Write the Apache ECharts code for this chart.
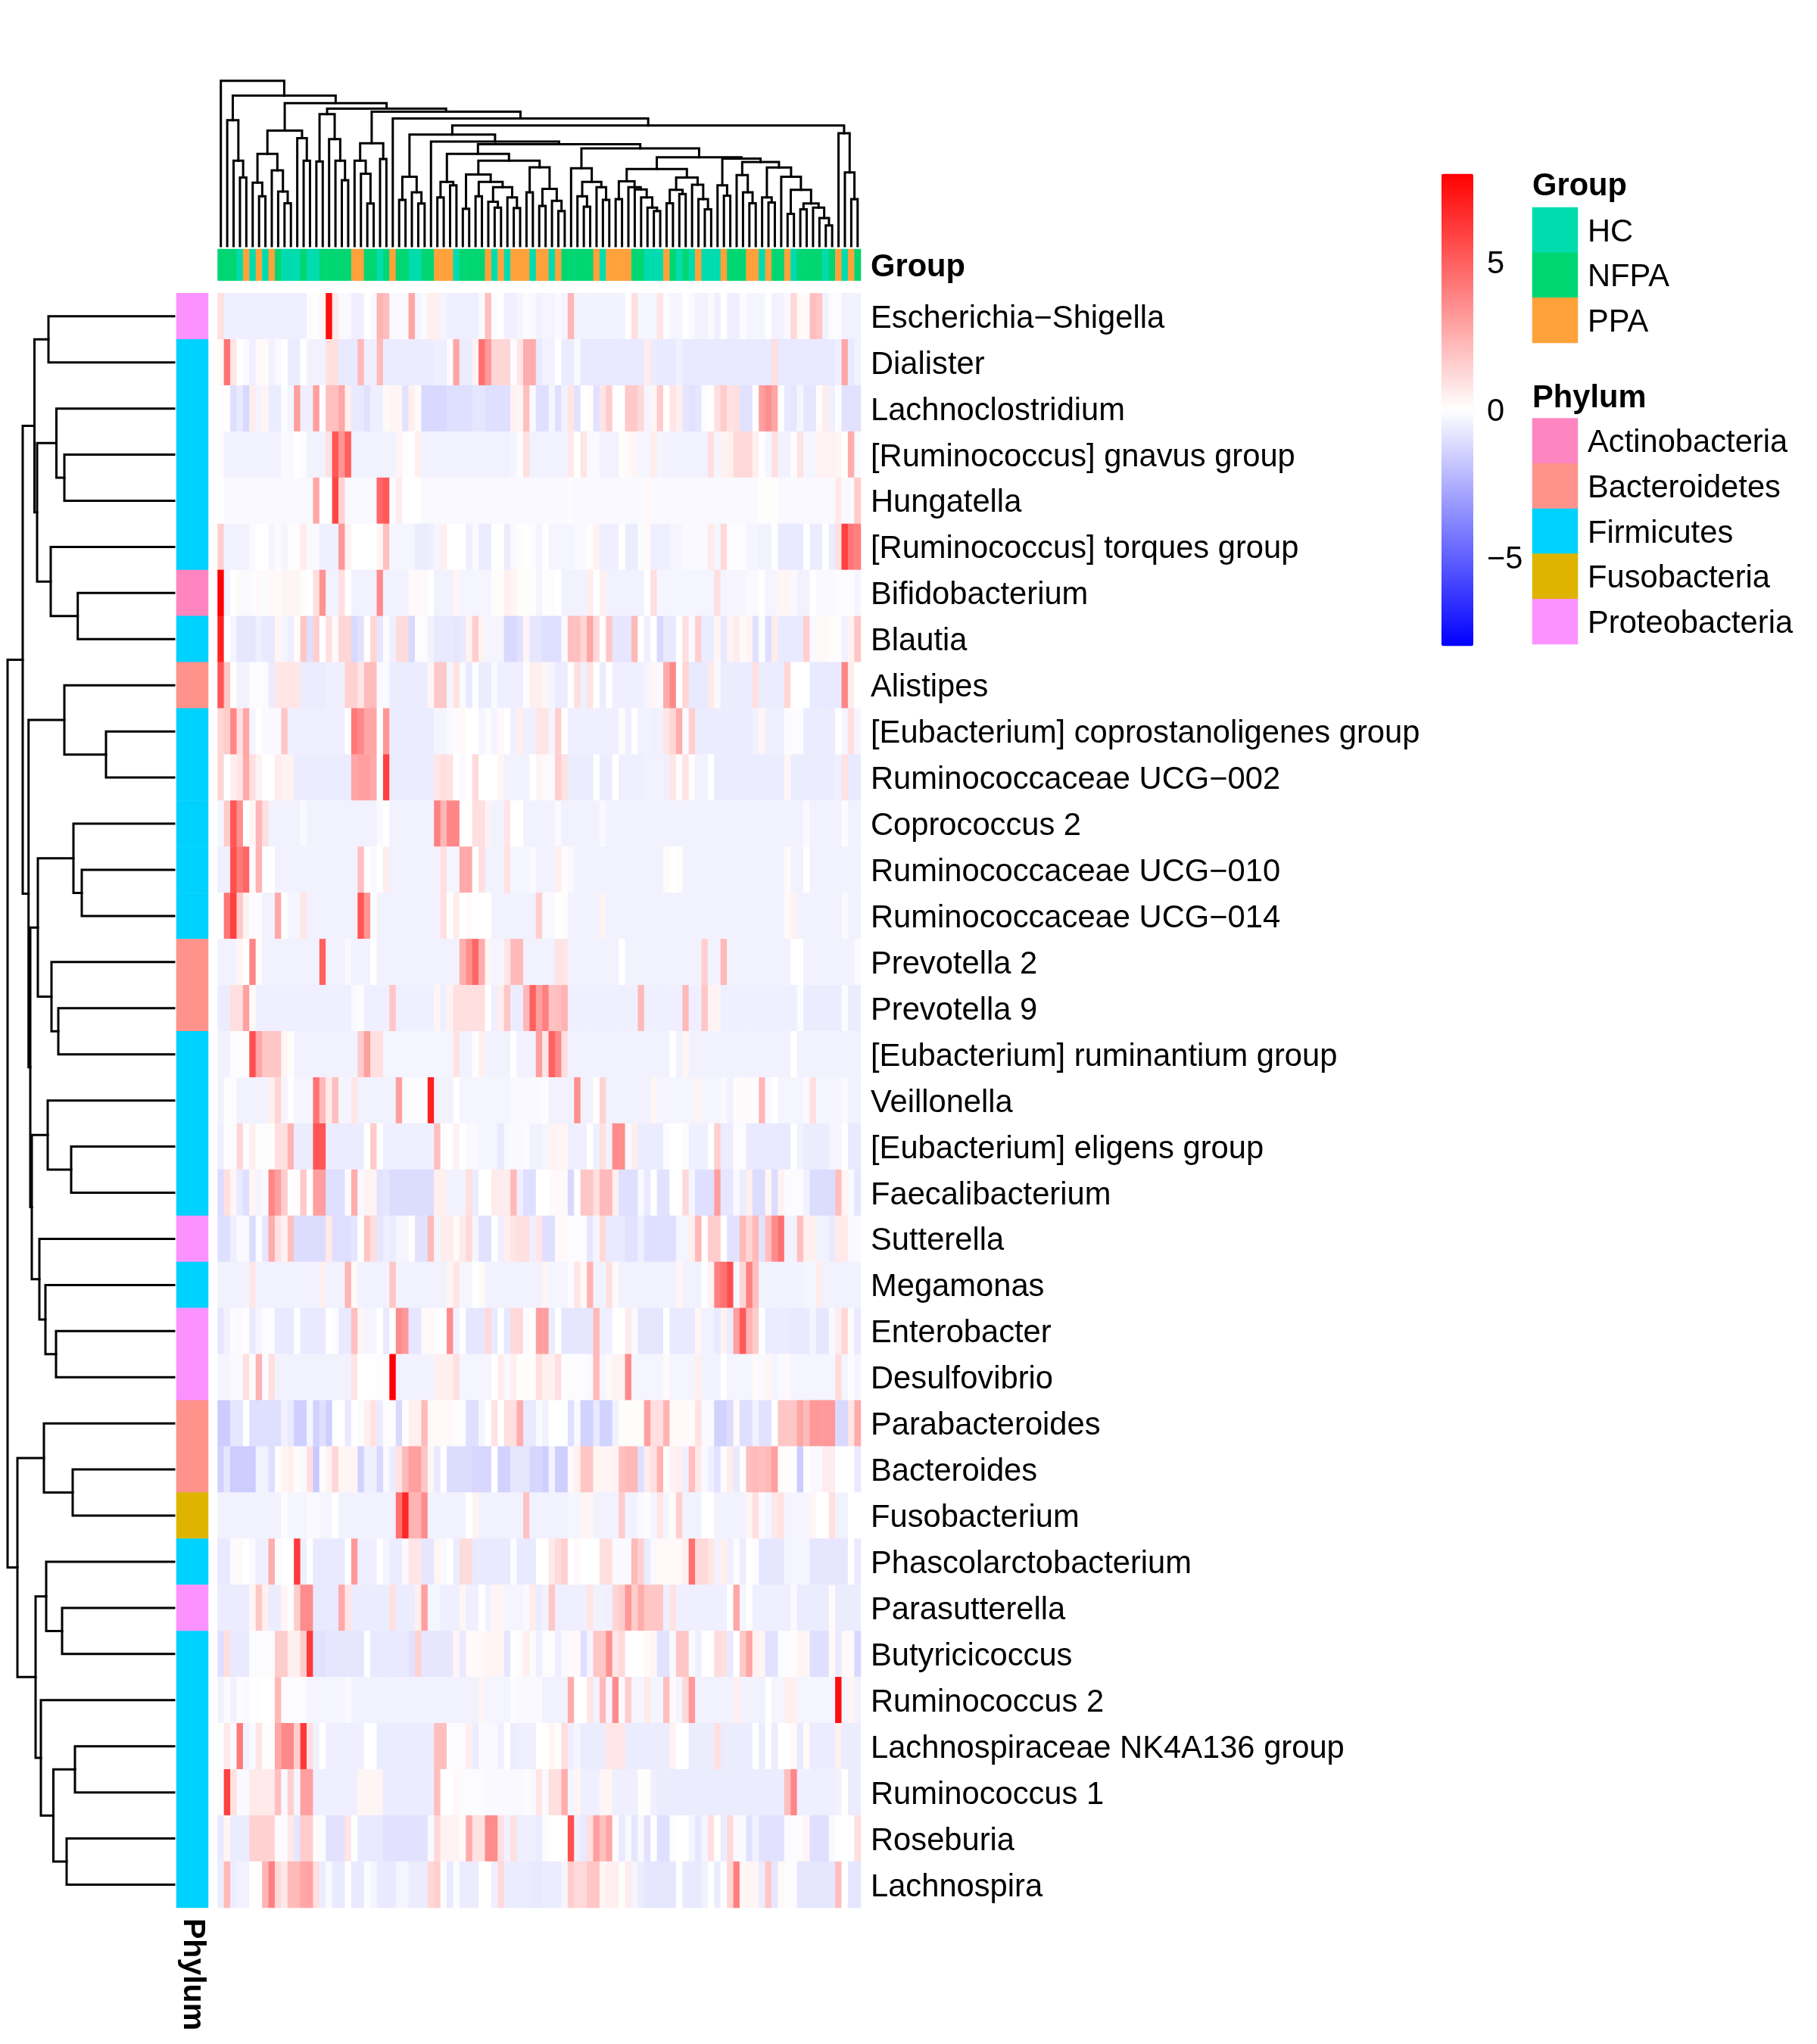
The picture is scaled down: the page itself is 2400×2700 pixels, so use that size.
<!DOCTYPE html>
<html><head><meta charset="utf-8">
<style>html,body{margin:0;padding:0;background:#fff}#c{width:2400px;height:2700px}</style>
<script src="https://cdn.jsdelivr.net/npm/echarts@6/dist/echarts.min.js"></script>
</head><body><div id="c"></div>
<script>
const genera = ["Escherichia−Shigella","Dialister","Lachnoclostridium","[Ruminococcus] gnavus group","Hungatella","[Ruminococcus] torques group","Bifidobacterium","Blautia","Alistipes","[Eubacterium] coprostanoligenes group","Ruminococcaceae UCG−002","Coprococcus 2","Ruminococcaceae UCG−010","Ruminococcaceae UCG−014","Prevotella 2","Prevotella 9","[Eubacterium] ruminantium group","Veillonella","[Eubacterium] eligens group","Faecalibacterium","Sutterella","Megamonas","Enterobacter","Desulfovibrio","Parabacteroides","Bacteroides","Fusobacterium","Phascolarctobacterium","Parasutterella","Butyricicoccus","Ruminococcus 2","Lachnospiraceae NK4A136 group","Ruminococcus 1","Roseburia","Lachnospira"];
const groupNames = ["HC","NFPA","PPA"];
const phylumNames = ["Actinobacteria","Bacteroidetes","Firmicutes","Fusobacteria","Proteobacteria"];
const groupPerSample = "N N N H P H P H P N  H H H N H H N N N N  N P P N N H N P N N  H H N N P P P H N N  N N P H P H P P P H  P P H P N N N N N P  H P P P P N N H H H  P N H N H P H H H P  N N N P P H P N N P  H N N N N H N P H P N".trim().split(/\s+/);
const phylumPerGenus = ["Proteobacteria","Firmicutes","Firmicutes","Firmicutes","Firmicutes","Firmicutes","Actinobacteria","Firmicutes","Bacteroidetes","Firmicutes","Firmicutes","Firmicutes","Firmicutes","Firmicutes","Bacteroidetes","Bacteroidetes","Firmicutes","Firmicutes","Firmicutes","Firmicutes","Proteobacteria","Firmicutes","Proteobacteria","Proteobacteria","Bacteroidetes","Bacteroidetes","Fusobacteria","Firmicutes","Proteobacteria","Firmicutes","Firmicutes","Firmicutes","Firmicutes","Firmicutes","Firmicutes"];
const colorTicks = [-5,0,5];

const r00=[1,-.5,-.5,-.5,-.5,-.5,-.5,-.5,-.5,-.5, -.5,-.5,-.5,-.5,-.1,.1,.3,7.6,.7,-.2, -.2,-.5,-.5,0,-.2,2.4,2,-.2,-.2,-.2, 2.8,-.3,-.2,.5,.5,-.3,-.5,-.5,-.5,-.5, -.5,-.2,2,-.1,0,-.5,-.5,-.3,-.1,-.2, -.4,-.3,-.3,-.2,-.3,2.3,-.4,-.4,-.4,-.4, -.4,-.4,-.4,-.4,0,1,-.3,-.3,-.3,.8, -.1,-.3,-.3,0,-.2,-.4,-.4,-.2,-.5,0, -.5,-.5,-.1,-.3,-.3,-.3,0,-.4,-.4,-.2, 1.2,.2,.2,2,1.8,-.4,-.1,-.1,-.4,-.4, -.4];
const r01=[.2,4.4,.8,0,-.2,-.5,.2,.2,-.4,-.2, 0,-.6,-.6,0,-.4,-.4,-.4,1,1,-.7, -.7,-.7,2.2,-.5,-.5,2.2,-.6,-.6,-.6,-.6, -.6,-.6,-.6,-.6,-.5,-.5,-.1,2.8,-.6,-.6, .4,4.5,3.2,1.3,1.3,1.3,-.1,.8,2.6,2.6, -.7,-.4,-.4,0,-.6,-.6,-.2,-.7,-.7,-.7, -.7,-.7,-.7,-.7,-.7,-.7,-.7,.6,-.6,-.7, -.7,-.7,-.4,-.7,-.7,-.7,-.7,-.7,-.7,-.7, -.7,-.7,-.7,-.7,-.7,-.7,-.7,1,-.7,-.7, -.7,-.7,-.7,-.7,-.7,-.7,-.7,-.5,2.8,-.7, -.4];
const r02=[.05,.05,-1,-.7,-1.2,.6,-.3,.3,-.6,-.6, -.1,-.3,3,-.5,-.5,3,0,2,2,2.8, .5,-.7,-.7,-.9,-.5,-.5,.2,.3,.3,-.9, .5,.2,-1.2,-1.2,-1.2,-1.2,-1,-1,-1,-1, -.8,-.8,-1,-1,-1,-1,.4,.3,2,-.2, -1,-1,-.3,-1,-.4,.8,-.9,0,.1,-.9, .8,1.6,0,0,1.7,1.7,1.2,-.3,.3,1.6, 0,.8,.5,-.8,-.9,-.8,-.1,0,1,1.6, .9,1,-.9,-.9,0,3,3.5,2.8,0,-.7, -.8,-.3,-.8,-.8,.1,.6,-.5,-.1,-.9,-.9, -.9];
const r03=[.1,-.4,-.4,-.4,-.4,-.4,-.4,-.4,-.4,-.4, -.2,-.2,0,-.1,-.4,-.4,-.4,.9,5.3,3.4, 5,-.4,-.4,-.4,-.4,-.4,-.4,-.4,.3,.1, 0,.5,-.4,-.4,-.4,-.4,-.4,-.4,-.4,-.4, -.4,-.4,-.4,-.4,-.4,-.4,-.3,-.1,1,-.4, -.4,-.4,-.4,-.4,-.4,.7,0,.8,-.2,-.2, -.4,-.4,-.4,.1,.2,.3,-.3,-.3,.6,-.3, -.4,-.4,-.4,-.4,-.4,-.4,-.4,1,-.3,.4, .5,1.2,1.2,1.2,.5,0,-.3,1,-.4,-.4, .1,.9,-.3,-.3,.4,.4,.4,.3,0,2.6, -.2];
const r04=[0,-.2,-.2,-.2,-.2,-.2,-.2,-.2,-.2,-.2, -.2,-.2,-.2,-.2,-.2,2.8,0,0,5.8,1.4, -.2,-.2,-.2,-.2,-.2,4.8,5.2,-.1,.6,0, 0,0,-.2,-.2,-.2,-.2,-.2,-.2,-.2,-.2, -.2,-.2,-.2,-.2,-.2,-.2,-.2,-.2,-.2,-.2, -.2,-.2,-.2,-.2,-.2,-.1,-.2,-.2,-.2,-.2, -.2,-.2,-.2,-.2,-.2,-.2,-.2,.2,-.2,-.2, -.2,-.2,-.2,-.2,-.2,-.2,-.2,-.2,-.2,-.2, -.2,-.2,-.2,-.2,-.2,.1,.1,.1,-.2,-.2, -.2,-.2,-.2,-.2,-.2,-.2,-.2,.7,-.2,-.2, 1.6];
const r05=[1.5,-.4,-.4,-.4,-.4,-.2,0,0,-.3,-.1, -.3,-.1,.1,.6,-.2,-.2,-.5,-.5,-.5,3.2, .4,0,0,0,0,.3,2,-.3,-.3,-.3, -.3,-.6,-.6,-.5,-.3,.5,0,0,0,-.5, -.2,-.6,-.6,0,0,-.6,-.2,.1,0,-.1, -.3,0,-.3,-.3,-.3,-.3,-.2,-.2,.1,.4, -.5,-.5,-.5,0,-.6,-.6,-.1,.2,-.5,-.5, -.5,-.3,-.3,-.2,-.2,-.2,-.2,.7,-.3,1.2, -.1,-.1,-.1,-.3,-.3,-.4,-.4,0,-.7,-.7, -.7,-.7,0,-.6,-.6,0,-.6,1,6,4.3, 4];
const r06=[8,-.4,0,.2,-.2,-.1,.2,-.1,.2,.2, .3,.3,.3,.1,0,1,3.4,-.4,-.4,1, 0,-.4,-.4,-.4,-.4,3.6,-.4,-.4,-.4,-.4, .2,.2,.2,0,-.4,-.4,-.4,.3,-.3,-.3, -.3,-.3,-.3,.1,.1,.5,.3,.1,.1,.1, -.3,.1,-.1,0,-.4,-.4,-.4,-.4,.6,0, .5,-.4,-.4,-.4,-.4,-.4,-.4,0,1,-.3, -.3,-.3,-.3,-.3,-.3,-.3,-.3,-.3,1,-.3, -.3,-.3,-.3,-.2,-.2,0,-.3,-.3,.3,.3, -.2,-.4,-.4,0,-.2,-.2,-.2,-.1,-.1,-.1, -.3];
const r07=[7,0,-.3,-.8,-.8,-.8,-.5,-.7,-.7,.3, -.3,-.5,.1,1.8,-1,1.5,0,1,.2,1.3, 1.3,-1.2,-.9,0,1.3,-.8,-.1,-.5,1.1,1.1, -1.2,-.1,-.1,-.4,-.7,-.7,-.7,-.8,-.7,.4, 1.6,.4,-.3,-.3,-.3,-1.2,-1.2,-.9,.3,-.8, -.8,-1,-1,-1,-.2,2,2,1.3,2.8,1.2, .1,1.8,-.8,-.8,-.8,2.2,0,-.5,0,-1.2, -.7,-.7,0,1,-.2,1.5,-.6,-.6,.3,-.7, .4,.6,.2,.3,-.9,-.1,-1,.6,-.7,-.7, -.7,-.7,1.5,-.2,.2,.2,.1,.1,-.4,.4, 1.8];
const r08=[5.3,1.8,0,-.4,-.4,-.1,-.1,-.1,-.6,.8, .8,.8,.8,-.6,-.6,-.6,-.6,-.5,-.5,-.5, 1.4,1.4,.8,2.1,2.1,-.2,-.2,-.6,-.6,-.6, -.6,-.6,-.6,.3,1.7,1.7,-.3,.9,-.2,-.7, -.1,-.6,-.6,-.2,-.5,-.5,-.5,-.5,-.1,.5, .5,.3,-.3,-.6,-.6,0,1,-.5,.9,0, -.6,0,-.5,-.5,-.5,-.5,-.5,-.3,.3,-.2, 2.6,3.7,0,1.3,-.7,-.7,-.7,.7,-.2,-.6, -.6,-.6,-.6,-.6,1,-.6,-.6,-.6,-.6,1.3, 0,0,0,-.7,-.7,-.7,-.7,-.7,3.8,.6, 0];
const r09=[1.3,1.6,3.8,1,2.8,-.3,0,-.2,-.2,-.2, 1.8,-.5,-.5,-.5,-.5,-.5,-.5,-.5,-.5,-.5, 0,4.2,3.7,2.8,2.8,0,3.3,-.6,-.6,-.6, -.6,-.6,-.6,-.6,-.3,-.3,-.2,-.1,.2,0, 0,-.3,-.1,-.3,.2,0,-.5,.5,-.5,-.5, .8,.8,-.3,1.5,0,-.5,-.5,-.5,-.5,-.5, -.5,-.5,-.5,-.1,-.5,0,-.4,-.4,-.5,-.4, .8,1.3,2.6,-.2,1.5,-.6,-.6,-.6,-.6,-.6, -.6,-.6,-.6,-.6,-.4,.3,-.5,-.5,-.5,-.1, -.1,-.1,-.6,-.6,-.6,-.6,-.6,0,-.3,1, -.3];
const r10=[1.3,0,.5,.8,2.7,1,.4,0,0,.6, .4,.4,-.6,-.6,-.6,-.6,-.6,-.6,-.6,-.6, -.6,2.8,3,3,2.7,0,6,-.6,-.6,-.6, -.6,-.6,-.6,-.6,.8,1,.9,0,-.2,0, 1.2,0,0,0,.3,-.4,-.4,-.4,-.4,0, .3,.2,-.2,1.5,.9,-.6,-.6,-.6,-.6,0, -.6,-.6,0,-.5,-.5,-.5,-.5,-.4,-.4,-.4, -.5,.8,.1,.9,.1,-.4,-.4,0,-.6,-.6, -.6,-.6,-.6,-.6,-.6,-.6,-.6,-.6,-.6,.3, -.6,-.6,-.6,-.6,-.6,-.6,-.6,-.5,.9,-.7, -.7];
const r11=[-.3,1.6,5.3,3.5,0,.3,2.3,1,-.4,-.4, -.4,-.4,-.4,-.2,-.4,-.4,-.4,-.4,-.4,-.4, -.4,-.4,-.4,-.4,-.4,-.2,0,-.4,-.4,-.4, -.4,-.4,-.4,-.4,4,2.3,3.8,3.8,0,0, 1,1,.4,-.4,-.4,.8,0,0,-.4,-.4, -.4,-.4,-.4,-.2,-.4,-.4,-.4,-.4,-.4,-.4, -.2,-.4,-.4,-.4,-.4,-.4,-.4,-.4,-.4,-.4, -.4,-.4,-.4,-.4,-.4,-.4,-.4,-.4,-.4,-.4, -.4,-.4,-.4,-.4,-.4,-.4,-.4,-.4,-.4,-.4, -.4,-.4,-.2,-.4,-.4,-.4,-.4,-.4,-.1,-.4, -.4];
const r12=[-.5,-.5,5.5,4.2,4.8,.2,2.4,0,0,-.4, -.4,-.4,-.4,-.4,-.4,-.4,-.4,-.4,-.4,-.4, -.4,-.4,2,0,-.2,0,.6,-.4,-.4,-.4, -.4,-.4,-.4,-.4,-.4,1,-.3,-.3,2.7,2.7, 0,1,-.4,-.4,-.4,.9,-.3,-.3,-.3,-.2, -.4,-.4,-.4,.5,.1,-.2,-.4,-.4,-.4,-.4, -.4,-.4,-.4,-.4,-.4,-.4,-.4,-.4,-.4,-.4, .2,0,.1,-.4,-.4,-.4,-.4,-.4,-.4,-.4, -.4,-.4,-.4,-.4,-.4,-.4,-.4,-.4,-.4,.2, -.4,-.4,0,-.4,-.4,-.4,-.4,-.4,-.4,-.4, -.4];
const r13=[0,4.3,6,1.7,.4,-.1,-.1,-.4,-.4,2.7, 0,-.3,-.3,.8,-.4,-.4,-.4,-.4,-.4,-.4, -.4,-.4,5.3,3.3,-.1,-.4,-.4,-.4,-.4,-.4, -.4,-.4,-.4,-.4,-.4,1,0,.6,0,.2, 0,0,0,-.4,-.4,-.4,-.4,-.4,-.4,-.4, 1.5,-.2,-.2,0,.1,-.4,-.4,-.4,-.4,-.4, .4,-.4,-.4,-.4,-.4,-.4,-.4,-.4,-.4,-.4, -.4,-.4,-.4,-.4,-.4,-.4,-.4,-.4,-.4,-.4, -.4,-.4,-.4,-.4,-.4,-.4,-.4,-.4,-.4,.2, .4,-.4,-.4,-.4,-.4,-.4,-.4,-.4,-.2,-.4, -.4];
const r14=[-.4,-.4,-.4,.3,0,3.8,.2,-.4,-.4,-.4, -.4,-.4,-.4,-.4,-.4,-.4,5,-.4,-.4,-.4, -.2,-.4,-.4,-.4,0,-.4,-.4,-.4,-.4,-.4, -.4,-.4,-.4,-.4,-.4,-.4,-.4,-.4,2.5,3.5, 4.8,2.6,.3,-.3,-.3,.8,2.2,2.2,-.4,-.4, -.4,-.4,-.4,.9,.8,-.4,-.4,-.4,-.4,-.4, -.4,-.4,-.4,0,-.4,-.4,-.4,-.4,-.4,-.4, -.4,-.4,-.4,-.4,-.4,-.4,1.5,-.4,-.4,2.2, -.4,-.4,-.4,-.4,-.4,-.4,-.4,-.4,-.4,-.4, 0,0,-.4,-.4,-.4,-.4,-.4,-.4,-.4,-.4, -.2];
const r15=[-.6,-.6,1,1,3,.2,-.5,-.5,-.5,-.5, -.5,-.5,-.5,-.5,-.5,-.5,-.5,-.5,-.5,-.5, -.5,-.2,-.1,-.5,-.5,-.5,-.5,1.8,-.5,-.5, -.5,-.5,-.5,-.5,.3,-.5,.4,1,1,1, 1,1,0,-.5,.6,1.8,-.6,-.6,2.2,5, 3,4,1.9,2,2.4,-.5,-.5,-.5,-.5,-.5, -.5,-.5,-.5,-.5,-.5,-.5,2.2,-.5,-.5,-.5, -.5,-.5,-.5,2.2,-.5,-.5,1.8,.4,.4,-.5, -.5,-.5,-.5,-.5,-.5,-.5,-.5,-.5,-.5,-.5, -.5,-.1,-.6,-.6,-.6,-.6,-.6,-.6,-.1,-.6, -.6];
const r16=[-.4,-.4,-.1,-.1,-.1,5.5,2.8,1.8,1.8,1.8, .3,.1,-.4,-.4,-.4,-.4,-.4,-.4,-.4,-.4, -.4,-.4,1.6,3,1,1,-.3,-.3,-.3,-.3, -.3,-.3,-.3,-.3,-.3,-.3,-.3,.9,-.4,-.4, -.1,.5,-.4,-.4,-.4,-.4,0,-.4,-.4,-.4, 3,.8,5,3.8,1,-.4,-.4,-.4,-.4,-.4, -.4,-.4,-.4,-.4,-.4,-.4,-.4,-.4,-.4,-.4, -.4,0,-.4,.3,-.4,-.4,-.4,-.4,-.4,-.4, -.4,-.4,-.4,-.4,-.4,-.4,-.4,-.4,-.4,-.4, 0,-.4,-.4,-.4,-.4,-.4,-.4,-.4,-.4,-.4, -.4];
const r17=[-.4,-.1,-.1,-.4,-.4,-.4,-.4,-.4,.5,1.3, -.3,0,-.3,-.3,-.3,4.4,2.2,.6,2,-.3, -.3,.8,-.4,-.4,-.4,-.4,-.4,-.4,3,-.1, -.1,-.1,-.1,7,-.4,-.4,-.4,0,-.3,-.3, -.3,-.3,-.3,-.3,-.3,-.3,-.2,-.2,-.2,-.2, -.2,-.1,-.4,-.4,-.4,-.4,3.5,-.4,-.4,0, 1.4,-.4,-.4,-.4,-.4,-.4,-.4,-.4,.3,-.3, -.3,-.3,-.3,-.3,-.3,.4,-.3,-.3,-.3,-.2, -.4,-.1,.2,.2,-.1,2.2,-.2,0,-.3,-.3, -.3,-.3,-.2,1,-.3,-.3,-.3,-.3,-.2,-.4, -.4];
const r18=[-.5,-.1,-.1,1.3,-.1,.5,.1,-.1,.1,1, 1,2.4,-.6,-.6,-.6,5.3,5.3,-.6,-.6,-.6, -.6,-.6,-.6,0,1.6,0,-.5,-.5,-.5,-.5, -.5,-.5,-.5,-.5,2,-.1,0,.4,0,-.2, -.2,-.3,-.3,-.3,-.7,-.2,-.2,-.2,-.1,-.4, -.4,-.3,.4,.3,.3,-.5,-.5,-.5,0,-.5, 1,-.4,3.6,3.6,-.2,.6,-.6,-.6,-.6,-.6, -.1,0,0,-.1,-.5,-.5,-.5,0,1.5,-.6, -.6,-.1,-.1,-.7,-.7,-.7,-.7,-.7,-.7,-.7, 0,-.4,-.6,-.6,-.6,-.6,-.3,-.3,0,-.7, -.7];
const r19=[-1.1,1,.3,-.7,-1,.3,-.3,-.2,3.8,3, 1.6,0,.1,1.7,0,3,3,-1,-1,-1, -.1,2.6,-.2,.4,.4,-.9,-.8,-1.1,-1.1,-1.1, -1.1,-1.1,-1.1,-1.1,.5,.5,-.4,-.4,-.4,1, -.6,0,0,.6,.6,.6,2.2,-.5,-1,-1, 0,0,.2,.2,.2,-1.2,0,1.8,1.8,1, 2.2,2.2,.5,-1,-1,-1,-.2,-.7,0,-.9, -.9,0,0,1.2,-.3,-1,-1,-1,3,-.8, -.8,-.2,-.6,.5,-1.1,-1.1,.3,-1.1,.4,-.1, -.1,-.1,-.4,-1.1,-1.1,-1.1,-1.1,2,.3,-.2, -.8];
const r20=[-1,-1,-.5,-.2,-.2,-1.1,-.1,-.8,2.6,.9, .4,2,-1.1,-1.1,-1.1,-1.1,-1.1,.7,-1,-1, -1,-.8,0,1.8,1,-.8,-.5,-.6,-.3,-.3, 0,-.9,-.9,2.2,-.3,.6,.6,.2,.7,1.2, -.3,-.9,-.9,0,-.5,.5,.8,1,1,-.5, .8,-1,-1,.2,.2,-.1,-.1,-.1,-.8,-.3, 1.2,-.7,-.7,-.7,-.9,-.9,-.5,-1,-1,-1, -1,-1,-.3,-.3,.5,2.2,0,1.6,1.6,0, -.9,-.9,2.2,1.3,2.2,-.9,2,3.6,4.5,-.4, -.4,2,.5,.5,-.4,-.4,-.7,.7,.7,-.2, -.2];
const r21=[-.4,-.4,-.4,-.4,-.4,.8,-.4,-.4,-.4,-.4, -.4,-.4,-.4,-.4,-.4,-.4,.5,-.4,-.4,-.4, 2.3,.2,-.4,-.4,-.4,-.4,-.4,1.8,-.4,-.4, -.4,-.4,-.4,-.4,-.4,-.4,.3,.8,-.3,-.3, 0,.2,-.4,-.4,-.4,-.4,-.4,-.4,-.4,-.4, -.4,.3,-.3,-.3,-.3,-.1,.8,.2,2.4,-.4, -.4,1,.2,-.4,-.4,-.4,-.4,-.4,-.4,-.4, -.4,-.4,.3,-.4,-.4,-.4,0,.4,4,4.5, 5.5,-.2,1.3,4,2,-.4,-.4,-.4,-.4,-.4, -.4,-.4,-.3,-.3,.6,-.4,-.4,-.4,-.4,-.4, -.4];
const r22=[-.8,-.4,-.1,-.2,.1,-.7,-.3,-.1,-.1,-.7, -.7,-.7,0,-.7,-.7,-.7,-.7,0,-.1,-.7, -.7,2,.3,-.3,-.3,0,-.7,0,3.6,3.2, -.8,-.8,.2,.2,.1,0,3.6,-.4,0,-.8, -.8,-.8,1.2,-.7,0,-.8,1.2,1.2,-.1,0, 3,3,-.6,0,-.8,-.8,-.8,-.8,-.8,2.2, -.5,-.5,0,0,.6,-.2,-.8,-.8,-.8,-.8, 0,-.7,-.7,-.7,-.7,.3,-.4,-.4,-.7,.4, -.6,3,5.2,2.4,1.6,0,-.6,-.6,-.6,-.6, -.7,-.7,-.7,-.3,-.8,-.8,-.2,.6,1.3,-.1, -.7];
const r23=[-.3,-.3,-.2,-.2,1,-.1,2.4,-.1,1,-.4, -.4,-.4,-.4,-.4,-.4,-.4,-.4,-.4,-.4,-.4, -.4,.8,0,0,0,-.1,-.1,8,-.4,-.4, -.4,-.4,-.4,-.4,.5,.5,.5,1,-.3,-.3, -.3,-.3,-.3,0,.6,-.2,.5,.1,.1,.1, 1,.5,.5,1,-.1,-.1,-.1,-.1,-.2,2.2, -.3,.2,.4,.4,3.6,-.3,-.3,-.3,-.3,-.3, .2,-.3,-.3,-.3,-.3,.5,-.4,-.4,-.4,0, -.3,-.3,-.3,-.3,.2,-.2,.3,-.3,-.2,.2, -.3,-.3,-.3,-.3,-.3,-.3,-.3,1.1,-.3,-.1, -.3];
const r24=[-1.6,-1.6,-.8,-.8,0,-1,-1,-1,-1,-1, -.4,-.7,-1.5,-1.5,-.3,-1.4,-1,-1.5,0,0, -.7,0,-.1,.5,.9,-.6,-.1,-.1,-1.2,0, .5,.5,2.2,.2,.2,.2,.2,.1,-.1,-1, -1,-.3,0,.9,0,1,1,2.6,-.7,-.7, -.2,-.4,0,0,0,-1,-.2,-1.4,-1.4,-.7, -1.4,-1.4,-.4,.1,.1,.1,.1,3,1,1, 2.4,.2,.2,.2,.2,.9,-.2,-.2,-1.4,-1.4, -1.1,.2,-1,-1,-.4,-.9,-.9,0,1.8,1.8, 1.8,2.8,2.2,3.2,3.2,3.2,3.2,-1.2,-1.2,.8, 2.6];
const r25=[-1.4,-.8,-1.6,-1.6,-1.6,-1.6,-.4,-.4,-1,.1, .3,.5,.1,-.2,1,-1.7,-.1,.4,1.3,.3, .3,.3,-1.4,-.5,-.5,-1.2,-.2,-.6,.9,2.2, 3,3,1.8,.3,-.7,0,-1.1,-1.1,-1.1,-1.1, -1.3,-1.3,-1.3,0,-1.4,-1.4,-.8,-.8,-.8,-1.3, -1.3,-1.5,-.4,-1.5,-1.5,.2,.5,1.8,1.8,.3, .3,.3,.4,2,2.2,2.2,-1,.6,1,2.4, .1,.4,.5,-.5,2,.7,-.2,-.5,-.9,-.1, .6,-.7,.1,2,2.2,2,2.2,3,.1,.1, .1,-1.6,0,-.2,-.2,.6,.6,0,0,0, -.7];
const r26=[-.4,-.4,-.4,-.4,-.4,-.4,-.4,-.4,-.4,-.4, -.1,-.3,-.3,-.3,-.2,-.2,-.3,-.3,0,-.4, -.4,-.4,-.4,-.4,-.4,-.4,-.4,-.4,4.5,6.8, 2.4,2.4,3.6,-.4,-.4,-.4,-.4,-.4,-.4,0, .4,-.4,-.4,-.4,-.4,-.4,-.4,-.4,1.9,-.4, -.4,-.4,-.4,-.4,-.4,-.3,-.3,.3,.3,-.4, -.4,-.4,-.4,1.6,-.4,-.4,-.2,-.1,-.3,.8, -.3,.1,1.5,-.4,-.4,-.4,0,0,-.4,-.4, -.4,-.4,-.4,.3,1,-.2,-.3,.7,.9,-.3, -.3,-.3,-.3,.3,0,0,1,-.4,-.4,0, 0];
const r27=[-.7,-.7,-.1,.2,0,-.2,-.5,-.5,2.6,-.1, 0,0,6.2,-.5,0,-.7,-.7,-.7,-.7,-.7, 0,3.2,-.5,-.5,-.5,0,-.3,-.6,-.6,-.2, .8,.8,-.8,-.8,.3,-.2,0,-.6,1.1,1.1, -.7,-.7,-.7,-.7,-.7,-.7,-.1,-.7,-.7,-.7, 0,0,.7,1.1,1.5,0,.2,0,0,0, 1,1,-.2,-.2,-.2,2.2,1.4,-.6,-.2,.2, .2,.2,.2,.5,4.5,1.2,1.2,.8,-.4,.5, -.5,-.1,-.6,0,-.1,-.8,-.8,-.8,-.8,-.3, -.3,-.3,-.3,-.8,-.8,-.8,-.8,-.8,-.8,0, -.7];
const r28=[-.6,-.6,-.6,-.6,-.6,.3,1.8,.5,-.6,-.6, .3,0,1.6,3.6,3.6,-.7,-.7,-.7,-.7,2.7, .8,-.6,-.6,-.6,-.6,-.6,-.6,1,-.6,-.6, -.6,.5,3,-.3,-.3,-.5,-.5,-.5,.3,-.5, -.5,0,-.4,.3,.3,-.3,-.3,-.3,-.2,.6, -.6,-.4,1.8,-.5,-.5,-.5,-.5,-.5,.8,-.4, -.4,-.5,1.3,1.6,3.2,1.6,2.6,1.8,1.8,1.8, -.5,.9,-.5,-.5,-.5,-.5,-.5,-.5,-.5,-.5, 0,2.8,-.3,0,-.5,-.5,-.5,-.5,-.5,-.5, -.2,-.6,-.6,-.6,-.6,-.6,.2,-.6,-.6,-.6, -.6];
const r29=[-1,1,-.7,-.7,-.7,-.1,-.1,-.1,-.1,1.6, 1.6,.5,.5,1.6,6.2,-.9,-.9,-.8,-.8,-.8, -.8,-.8,-.8,0,-.7,-.7,-.7,-.7,-.7,-.7, -.9,1.4,-.8,-.8,-.8,-.8,-.8,.3,-.7,.2, .2,.2,.3,.3,.3,-.8,0,-.1,.5,-.1, -.5,-.1,-.1,-.5,-.2,.2,.2,-1,-.3,1.8, 1.8,3.4,.8,1.2,0,0,0,.2,.3,-.9, -.9,-.2,1.8,1.8,-.2,-.5,0,0,1.1,1, -.7,0,1.7,2.8,.4,.3,-.9,-.9,-.1,-.1, .1,.3,.3,-1,-1,-1,.2,-.7,.2,.2, -1.2];
const r30=[-.4,-.1,-.4,-.1,-.2,0,.1,0,0,2.2, -.1,-.1,-.1,-.1,-.3,-.3,-.3,-.3,-.3,-.3, -.2,-.4,-.4,-.4,-.4,-.4,-.4,-.4,-.4,-.4, -.4,-.4,-.4,-.4,-.4,-.4,-.4,-.4,-.4,-.4, -.4,.3,-.3,-.3,-.3,-.3,-.1,-.2,-.2,-.2, -.2,-.4,-.4,-.4,-.4,2.6,0,0,.8,-.4, 2.2,-.3,3.6,-.2,1.6,-.3,-.3,.7,-.3,-.3, 2,.2,-.3,1.2,3.2,-.4,-.4,-.4,-.4,-.4, -.4,.5,-.4,-.4,-.4,-.4,0,-.3,-.3,.5, .5,-.3,-.3,-.3,-.3,-.3,-.3,7.5,-.3,.3, -.4];
const r31=[0,.7,-.2,4.2,-.4,-.2,.8,.1,.1,2.8, 3.7,3.7,1.5,6.2,1,-.4,0,-.5,-.5,-.5, -.5,-.5,-.5,0,0,-.6,-.6,-.6,-.6,-.6, -.6,-.6,-.6,-.6,2,2,-.1,-.1,-.1,.5, -.6,-.2,-.2,-.2,-.5,0,-.6,-.5,-.5,-.5, 0,0,.3,.1,1,-.5,-.3,-.6,-.6,-.6, -.6,.8,.8,.8,-.6,-.6,-.6,-.6,-.6,-.6, -.6,.4,0,0,-.6,-.6,-.6,-.6,1,-.6, -.6,-.6,-.6,-.6,0,-.6,0,-.6,0,0, .2,-.7,.2,-.6,-.6,-.6,-.6,.5,-.6,-.6, -.6];
const r32=[-.1,6,1,-.2,-.2,.7,.7,.7,.7,2, -.2,1.5,-.3,3,3,-.5,-.5,-.5,-.5,-.5, -.5,-.5,.3,.3,.3,.3,-.6,-.6,-.6,-.6, -.6,-.6,-.6,-.6,2,0,0,.2,-.1,-.1, -.1,-.1,-.2,-.2,-.2,-.2,-.2,-.2,-.1,-.2, .8,-.2,1,1,2.6,-.3,.3,-.5,-.5,-.5, .3,.3,-.5,-.5,-.5,-.5,.1,.1,-.5,-.6, -.6,-.6,-.6,-.6,-.6,-.6,-.6,-.6,-.6,-.6, -.6,-.6,-.6,-.6,-.6,-.6,-.6,-.6,-.6,2, 3.8,-.5,-.5,-.5,-.5,-.5,-.5,-.4,0,-.6, -.6];
const r33=[-.7,.3,-.6,-.6,-.6,1.4,1.4,1.4,1.4,-.1, -.1,.7,-.8,1.6,1.6,-.1,-.1,-.9,-.9,-.9, .8,0,-.7,-.7,-.7,-.7,-.9,-.9,-.9,-.9, -.9,-.9,-.9,-.2,1.2,.4,.4,.4,.2,2.6, .9,.9,3.6,3.6,1,-.4,1,-.5,-.5,-.5, -.6,-.1,0,0,0,5.5,-.5,-.7,1,3, 2,2.8,-.1,-.7,-.2,-.8,-.2,-.9,0,-1, -1,-.1,0,0,-.3,-.8,-.3,1,0,-.6, 1.2,-.2,-.2,-.9,-.4,-.9,-.9,-.9,-.9,-.1, -.1,-.1,.3,-1,-1,-1,-.2,0,0,0, 1];
const r34=[-.6,2.2,-.6,-.4,-.4,0,0,2.3,4,1.2, .7,2.2,2.2,2.8,2.9,1,-.6,-.2,-.7,-.7, 0,-.7,-.7,-.1,-.3,-.7,-.7,-.7,-.3,-.3, -.6,-.6,-.6,1.3,1.5,-.1,-.7,-.1,-.6,-.6, -.6,0,0,-.5,1.2,-.6,-.6,-.6,-.6,-.7, -.7,-.6,-.6,-.6,-.3,1.6,1.2,1.2,1.8,1.8, .3,.5,.5,.1,.6,-.3,-.6,-.8,-.8,-.8, -.8,-.8,0,-.7,-.7,-.7,-.4,0,-.6,0, 1.3,4,.3,.3,.3,-.6,1.8,-.8,.2,-.1, -.1,-.8,-.8,-.8,-.8,-.8,-.8,2,0,-.8, -.8];
const matrixRows=[r00,r01,r02,r03,r04,r05,r06,r07,r08,r09,r10,r11,r12,r13,r14,r15,r16,r17,r18,r19,r20,r21,r22,r23,r24,r25,r26,r27,r28,r29,r30,r31,r32,r33,r34];
matrixRows.forEach((r,i)=>{ if(r.length!==101) throw new Error('row '+i+' has '+r.length); });

// dendrograms: [mergeHeight, leftChild, rightChild], 0 = leaf (leaves in plotted order)
const sampleTree=[482,0,[439,[367,0,[249,0,[200,0,0]]],[417,[337,[269,[185,0,[145,0,0]],[221,0,[159,0,[125,0,0]]]],[315,0,[249,0,0]]],[401,[385,[247,0,0],[312,0,[249,0,[192,0,0]]]],[392,[300,[249,0,[211,0,[124,0,0]]],[254,0,0]],[372,0,[352,[325,[202,[135,0,0],[157,0,[124,0,0]]],[305,0,[297,[269,[187,[142,0,0],[177,0,0]],[249,[209,[109,0,0],[187,[145,0,0],[172,[129,0,[112,0,0]],[142,0,[111,0,0]]]]],[230,[157,0,0],[167,[117,0,0],[132,0,[102,0,0]]]]]],[285,[227,0,[187,[145,0,[115,0,0]],[172,0,[135,0,0]]]],[259,[225,[189,[137,0,0],[172,0,[165,0,[142,0,[112,0,[102,0,0]]]]]],[200,[164,[125,0,0],[152,0,0]],[179,0,[137,0,[107,0,0]]]]],[255,[177,0,[147,0,0]],[245,[207,0,[157,0,[125,0,0]]],[229,[142,0,[127,0,0]],[202,0,[164,[94,0,0],[124,[107,0,0],[112,0,[82,0,[60,0,0]]]]]]]]]]]]]],[329,0,[215,0,[137,0,0]]]]]]]]]];
const genusTree=[220,[200,[184.5,[166,0,0],[181,[155.5,0,[145,0,0]],[163,0,[127.3,0,0]]]],[192.3,[145,0,[90,0,0]],[190,[180,[133,0,[122,0,0]],[162,0,[153,0,0]]],[188,[167,0,[136,0,0]],[178,0,[170,0,[156,0,0]]]]]]],[207,[172,0,[134,0,0]],[183,[169,0,[148,0,0]],[176,0,[159.5,[131,0,0],[142,0,0]]]]]];

const groupColors={HC:'#00DCAE',NFPA:'#00D672',PPA:'#FFA23C'};
const phylumColors={Actinobacteria:'#FF85C0',Bacteroidetes:'#FF928A',Firmicutes:'#00D2FF',Fusobacteria:'#DEB400',Proteobacteria:'#FB92FF'};
const groupByCode={H:'HC',N:'NFPA',P:'PPA'};

function flatten(tree){
  const out=[]; let leaf=0;
  (function walk(n){
    if(n===0){ const p=leaf+.5; leaf++; return {p,h:0}; }
    const a=walk(n[1]), b=walk(n[2]);
    out.push([a.p,a.h,b.p,b.h,n[0]]);
    return {p:(a.p+b.p)/2,h:n[0]};
  })(tree);
  return out;
}
const FONT='"Liberation Sans", Arial, sans-serif';
const FS=41.7, L=287.5, W=849.5, T=387.3, H=2132.7;
const hidden={show:false};
const lineStyle={stroke:'#000',lineWidth:3,fill:null,lineJoin:'miter',lineCap:'square'};
const noAxis={axisLine:hidden,axisTick:hidden,splitLine:hidden};
const LOWER={verticalAlign:'top',lineHeight:7};

const heatData=[];
matrixRows.forEach((r,y)=>r.forEach((v,x)=>heatData.push([x,y,v])));
const cols=[...Array(101).keys()].map(String);

const option={
  animation:false, backgroundColor:'#fff',
  textStyle:{fontFamily:FONT},
  title:[
    {text:'Group',left:2024,top:226,padding:0,textStyle:{fontFamily:FONT,fontSize:FS,fontWeight:'bold',color:'#000'}},
    {text:'Phylum',left:2024,top:506,padding:0,textStyle:{fontFamily:FONT,fontSize:FS,fontWeight:'bold',color:'#000'}}
  ],
  visualMap:[{type:'continuous',min:-8,max:8,seriesIndex:0,calculable:false,show:true,left:1904,top:229.5,padding:0,itemWidth:42,itemHeight:624,text:['',''],showLabel:false,inRange:{color:['#0000ff','#ffffff','#ff0000']},textStyle:{fontSize:1,color:'transparent'}}],
  grid:[
    {left:L,top:T,width:W,height:H},                 // 0 heatmap
    {left:L,top:329,width:W,height:41.7},            // 1 group bar
    {left:233,top:T,width:42,height:H},              // 2 phylum bar
    {left:L,top:106.8,width:W,height:218.2},         // 3 sample tree
    {left:10,top:T,width:220,height:H},              // 4 genus tree
    {left:2024,top:274,width:60,height:179},         // 5 group key
    {left:2024,top:552.5,width:60,height:298.5},     // 6 phylum key
    {left:1904,top:229.5,width:42,height:624}        // 7 colour-bar ticks
  ],
  xAxis:[
    {gridIndex:0,type:'category',data:cols,show:false},
    {gridIndex:1,type:'category',data:cols,show:false},
    {gridIndex:2,type:'category',data:['Phylum'],...noAxis,axisLabel:{rotate:-90,margin:14,color:'#000',fontFamily:FONT,fontSize:41,fontWeight:'bold'}},
    {gridIndex:3,type:'value',min:0,max:101,show:false},
    {gridIndex:4,type:'value',min:0,max:220,inverse:true,show:false},
    {gridIndex:5,type:'category',data:['k'],show:false},
    {gridIndex:6,type:'category',data:['k'],show:false},
    {gridIndex:7,type:'category',data:['k'],show:false}
  ],
  yAxis:[
    {gridIndex:0,type:'category',inverse:true,data:genera,position:'right',...noAxis,axisLabel:{margin:13,...LOWER,interval:0,color:'#000',fontFamily:FONT,fontSize:FS}},
    {gridIndex:1,type:'category',data:['Group'],position:'right',...noAxis,axisLabel:{margin:13,...LOWER,color:'#000',fontFamily:FONT,fontSize:FS,fontWeight:'bold'}},
    {gridIndex:2,type:'category',inverse:true,data:genera,show:false},
    {gridIndex:3,type:'value',min:0,max:482,show:false},
    {gridIndex:4,type:'value',min:0,max:35,inverse:true,show:false},
    {gridIndex:5,type:'category',inverse:true,data:groupNames,position:'right',...noAxis,axisLabel:{margin:13,...LOWER,color:'#000',fontFamily:FONT,fontSize:FS}},
    {gridIndex:6,type:'category',inverse:true,data:phylumNames,position:'right',...noAxis,axisLabel:{margin:13,...LOWER,interval:0,color:'#000',fontFamily:FONT,fontSize:FS}},
    {gridIndex:7,type:'value',min:-8,max:8,position:'right',...noAxis,axisLabel:{margin:18,verticalAlign:'top',lineHeight:6,color:'#000',fontFamily:FONT,fontSize:FS,customValues:colorTicks,formatter:v=>String(v).replace('-','−')}}
  ],
  series:[
    {type:'heatmap',xAxisIndex:0,yAxisIndex:0,data:heatData,progressive:0,itemStyle:{borderWidth:0},emphasis:{disabled:true}},
    {type:'heatmap',xAxisIndex:1,yAxisIndex:1,progressive:0,data:groupPerSample.map((g,i)=>({value:[i,0,i],itemStyle:{color:groupColors[groupByCode[g]]}}))},
    {type:'heatmap',xAxisIndex:2,yAxisIndex:2,progressive:0,data:phylumPerGenus.map((p,i)=>({value:[0,i,i],itemStyle:{color:phylumColors[p]}}))},
    {type:'heatmap',xAxisIndex:5,yAxisIndex:5,progressive:0,data:groupNames.map((g,i)=>({value:[0,i,i],itemStyle:{color:groupColors[g]}}))},
    {type:'heatmap',xAxisIndex:6,yAxisIndex:6,progressive:0,data:phylumNames.map((p,i)=>({value:[0,i,i],itemStyle:{color:phylumColors[p]}}))},
    {type:'custom',xAxisIndex:3,yAxisIndex:3,clip:false,data:flatten(sampleTree),encode:{x:0,y:1},
      renderItem:(ps,api)=>{const [a,b,c,d,h]=[0,1,2,3,4].map(i=>api.value(i));
        return {type:'polyline',shape:{points:[api.coord([a,b]),api.coord([a,h]),api.coord([c,h]),api.coord([c,d])]},style:lineStyle};}},
    {type:'custom',xAxisIndex:4,yAxisIndex:4,clip:false,data:flatten(genusTree),encode:{x:1,y:0},
      renderItem:(ps,api)=>{const [a,b,c,d,h]=[0,1,2,3,4].map(i=>api.value(i));
        return {type:'polyline',shape:{points:[api.coord([b,a]),api.coord([h,a]),api.coord([h,c]),api.coord([d,c])]},style:lineStyle};}}
  ]
};
const chart=echarts.init(document.getElementById('c'),null,{renderer:'canvas',width:2400,height:2700});
chart.setOption(option);
</script></body></html>
